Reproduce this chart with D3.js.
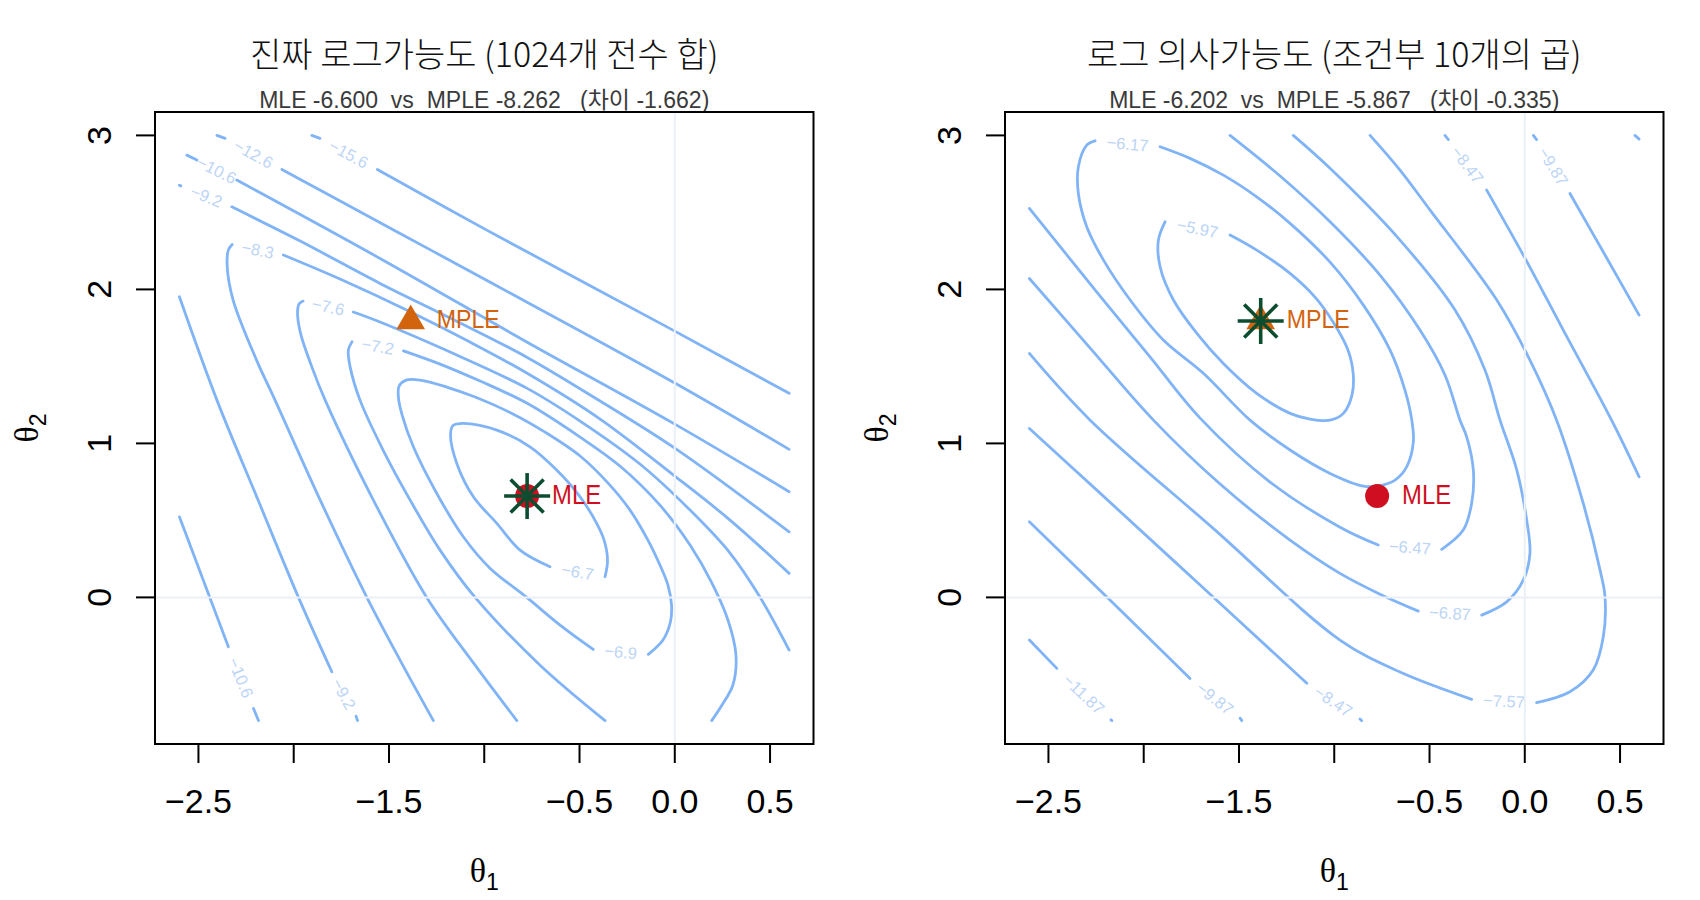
<!DOCTYPE html>
<html><head><meta charset="utf-8">
<script src="https://cdn.jsdelivr.net/npm/d3@7"></script>
<style>
body{margin:0;background:#fff;}
svg{display:block;}
text{white-space:pre;}
</style></head><body>
<svg id="c" width="1700" height="900"></svg>
<script>
// ---------- data ----------
const titles = ["진짜 로그가능도 (1024개 전수 합)", "로그 의사가능도 (조건부 10개의 곱)"];
const subtitles = ["MLE -6.600  vs  MPLE -8.262   (차이 -1.662)", "MLE -6.202  vs  MPLE -5.867   (차이 -0.335)"];
const xTicks = [-2.5, -2.0, -1.5, -1.0, -0.5, 0.0, 0.5];
const xTickLabels = ["-2.5", "", "-1.5", "", "-0.5", "0.0", "0.5"];
const yTicks = [0, 1, 2, 3];
const yTickLabels = ["0", "1", "2", "3"];
const mle = [-0.775, 0.658];
const mple = [-1.386, 1.795];
const leftLevels = [-15.6, -12.6, -10.6, -9.2, -8.3, -7.6, -7.2, -6.9, -6.7];
const rightLevels = [-11.87, -9.87, -8.47, -7.57, -6.87, -6.47, -6.17, -5.97];

// left panel contour pieces (theta1, theta2)
const L15_6a = [[-1.905,3.0],[-1.862,2.981]];
const L15_6b = [[-1.561,2.779],[-0.987,2.385],[0,1.729],[0.6,1.325]];
const L12_6a = [[-2.403,3.0],[-2.360,2.981]];
const L12_6b = [[-2.062,2.779],[-1.459,2.375],[-1.022,2.082],[0,1.392],[0.6,0.961]];
const L10_6a = [[-2.561,2.872],[-2.508,2.840]];
const L10_6b = [[-2.299,2.710],[-1.547,2.201],[-0.777,1.659],[0,1.125],[0.6,0.686]];
const L10_6c = [[-2.6,0.523],[-2.343,-0.321]];
const L10_6d = [[-2.211,-0.721],[-2.185,-0.8]];
const L9_2a = [[-2.6,2.677],[-2.592,2.672]];
const L9_2b = [[-2.325,2.536],[-1.966,2.314],[-1.547,2.039],[-1.179,1.814],[-0.777,1.560],[-0.392,1.275],[0,0.969],[0.6,0.426]];
const L9_2c = [[-2.6,1.952],[-2.403,1.281],[-2.187,0.632],[-1.975,0],[-1.800,-0.483]];
const L9_2d = [[-1.673,-0.771],[-1.665,-0.8]];
const L8_3a = [[-1.267,-0.8],[-1.442,-0.407],[-1.616,0],[-1.861,0.632],[-2.098,1.281],[-2.195,1.541],[-2.318,1.931],[-2.349,2.147],[-2.343,2.255],[-2.323,2.291]];
const L8_3b = [[-2.054,2.223],[-1.757,2.067],[-1.386,1.853],[-1.075,1.658],[-0.777,1.457],[-0.392,1.158],[0,0.788],[0.290,0.502],[0.6,0.156]];
const L7_6a = [[-0.829,-0.8],[-1.048,-0.440],[-1.302,0],[-1.582,0.632],[-1.835,1.281],[-1.905,1.497],[-1.964,1.714],[-1.980,1.853],[-1.972,1.905],[-1.951,1.924]];
const L7_6b = [[-1.687,1.853],[-1.547,1.788],[-1.179,1.593],[-0.777,1.359],[-0.497,1.145],[-0.183,0.866],[0.080,0.567],[0.290,0.288],[0.447,0.002],[0.6,-0.342]];
const L7_2a = [[-0.366,-0.8],[-0.707,-0.440],[-1.048,0],[-1.232,0.307],[-1.389,0.632],[-1.531,0.957],[-1.652,1.281],[-1.704,1.497],[-1.713,1.606],[-1.694,1.661]];
const L7_2b = [[-1.424,1.601],[-1.232,1.515],[-1.022,1.405],[-0.777,1.262],[-0.497,1.041],[-0.288,0.853],[-0.078,0.599],[0.080,0.340],[0.195,0.093],[0.279,-0.147],[0.321,-0.375],[0.305,-0.569],[0.248,-0.699],[0.194,-0.8]];
const L6_9 = [[-0.139,-0.370],[-0.062,-0.277],[-0.023,-0.160],[-0.017,-0.050],[-0.036,0.080],[-0.078,0.210],[-0.141,0.372],[-0.235,0.567],[-0.350,0.742],[-0.497,0.918],[-0.681,1.073],[-0.847,1.190],[-1.048,1.301],[-1.197,1.366],[-1.337,1.411],[-1.410,1.411],[-1.447,1.372],[-1.450,1.294],[-1.431,1.184],[-1.372,0.978],[-1.249,0.675],[-1.110,0.394],[-0.970,0.190],[-0.777,0],[-0.602,-0.180],[-0.428,-0.338]];
const L6_7 = [[-0.366,0.134],[-0.353,0.242],[-0.371,0.372],[-0.410,0.481],[-0.497,0.653],[-0.620,0.827],[-0.760,0.978],[-0.934,1.086],[-1.110,1.130],[-1.164,1.116],[-1.177,1.054],[-1.144,0.870],[-1.057,0.653],[-0.934,0.481],[-0.812,0.307],[-0.655,0.199]];

// right panel contour pieces
const R5_97 = [[-1.547,2.353],[-1.407,2.255],[-1.232,2.104],[-1.101,1.950],[-1.006,1.788],[-0.928,1.606],[-0.900,1.444],[-0.907,1.314],[-0.952,1.195],[-1.022,1.151],[-1.127,1.158],[-1.232,1.195],[-1.407,1.325],[-1.582,1.519],[-1.721,1.714],[-1.844,1.931],[-1.914,2.147],[-1.923,2.320],[-1.888,2.439]];
const R6_17 = [[-1.914,2.926],[-1.757,2.851],[-1.582,2.742],[-1.407,2.601],[-1.232,2.429],[-1.022,2.177],[-0.847,1.898],[-0.707,1.606],[-0.629,1.346],[-0.593,1.151],[-0.585,1.008],[-0.620,0.848],[-0.681,0.762],[-0.760,0.726],[-0.847,0.723],[-1.022,0.805],[-1.232,0.957],[-1.442,1.151],[-1.687,1.455],[-1.897,1.671],[-2.071,1.931],[-2.211,2.190],[-2.299,2.407],[-2.343,2.623],[-2.343,2.796],[-2.299,2.937],[-2.255,2.965]];
const R6_47a = [[-2.6,2.526],[-2.229,1.957],[-1.966,1.560],[-1.704,1.164],[-1.337,0.749],[-0.970,0.456],[-0.769,0.340]];
const R6_47b = [[-0.436,0.312],[-0.323,0.437],[-0.279,0.610],[-0.270,0.827],[-0.305,1.043],[-0.340,1.151],[-0.419,1.444],[-0.550,1.736],[-0.760,2.093],[-1.022,2.439],[-1.284,2.736],[-1.547,3.0]];
const R6_87a = [[-2.6,2.071],[-2.281,1.619],[-1.949,1.151],[-1.599,0.736],[-1.232,0.372],[-0.970,0.156],[-0.760,0.021],[-0.559,-0.089]];
const R6_87b = [[-0.226,-0.115],[-0.095,-0.029],[-0.008,0.112],[0.027,0.286],[0.010,0.502],[-0.042,0.827],[-0.130,1.151],[-0.209,1.476],[-0.366,1.866],[-0.655,2.320],[-1.022,2.786],[-1.215,3.0]];
const R7_57a = [[-2.6,1.584],[-2.281,1.151],[-1.625,0.437],[-0.970,-0.277],[-0.655,-0.485],[-0.279,-0.662]];
const R7_57b = [[0.062,-0.684],[0.237,-0.613],[0.359,-0.472],[0.412,-0.256],[0.421,0.004],[0.395,0.177],[0.307,0.610],[0.167,1.151],[0.027,1.541],[-0.147,1.931],[-0.497,2.515],[-0.655,2.775],[-0.812,3.0]];
const R8_47a = [[-0.419,3.0],[-0.401,2.973]];
const R8_47b = [[-0.200,2.645],[0.001,2.203],[0.202,1.736],[0.395,1.294],[0.482,1.086],[0.6,0.783]];
const R8_47c = [[-2.6,1.097],[-2.229,0.677],[-1.704,0.080],[-1.144,-0.558]];
const R8_47d = [[-0.865,-0.790],[-0.856,-0.8]];
const R9_87a = [[0.045,3.0],[0.062,2.973]];
const R9_87b = [[0.237,2.623],[0.421,2.223],[0.6,1.833]];
const R9_87c = [[-2.6,0.491],[-2.176,-0.018],[-1.757,-0.526]];
const R9_87d = [[-1.494,-0.784],[-1.485,-0.8]];
const R11_87a = [[0.578,3.0],[0.6,2.976]];
const R11_87b = [[-2.6,-0.277],[-2.456,-0.461]];
const R11_87c = [[-2.172,-0.795],[-2.167,-0.8]];

// components: pieces and label gaps [end of piece i -> start of piece j]
const leftContours = [
  {level: leftLevels[0], pieces: [L15_6a, L15_6b], gaps: [[0,1]]},
  {level: leftLevels[1], pieces: [L12_6a, L12_6b], gaps: [[0,1]]},
  {level: leftLevels[2], pieces: [L10_6a, L10_6b, L10_6c, L10_6d], gaps: [[0,1],[2,3]]},
  {level: leftLevels[3], pieces: [L9_2a, L9_2b, L9_2c, L9_2d], gaps: [[0,1],[2,3]]},
  {level: leftLevels[4], pieces: [L8_3a, L8_3b], gaps: [[0,1]]},
  {level: leftLevels[5], pieces: [L7_6a, L7_6b], gaps: [[0,1]]},
  {level: leftLevels[6], pieces: [L7_2a, L7_2b], gaps: [[0,1]]},
  {level: leftLevels[7], pieces: [L6_9], gaps: [[0,0]]},
  {level: leftLevels[8], pieces: [L6_7], gaps: [[0,0]]}
];
const rightContours = [
  {level: rightLevels[0], pieces: [R11_87a, R11_87b, R11_87c], gaps: [[1,2]]},
  {level: rightLevels[1], pieces: [R9_87a, R9_87b, R9_87c, R9_87d], gaps: [[0,1],[2,3]]},
  {level: rightLevels[2], pieces: [R8_47a, R8_47b, R8_47c, R8_47d], gaps: [[0,1],[2,3]]},
  {level: rightLevels[3], pieces: [R7_57a, R7_57b], gaps: [[0,1]]},
  {level: rightLevels[4], pieces: [R6_87a, R6_87b], gaps: [[0,1]]},
  {level: rightLevels[5], pieces: [R6_47a, R6_47b], gaps: [[0,1]]},
  {level: rightLevels[6], pieces: [R6_17], gaps: [[0,0]]},
  {level: rightLevels[7], pieces: [R5_97], gaps: [[0,0]]}
];

// ---------- drawing ----------
const svg = d3.select("#c");
const FONT = "'Liberation Sans', 'Noto Sans CJK KR', sans-serif";
const KFONT = "'Noto Sans CJK KR', 'Liberation Sans', sans-serif";
const LINE = "#80b4f6", LABEL = "#bcd5f6", GRID = "#ebf0f7";
const RED = "#cf0f21", ORANGE = "#d3640e", GREEN = "#0c4d30";
const plotTop = 112, plotBottom = 744, pw = 658.5;
const xDom = [-2.728, 0.728], yDom = [-0.952, 3.152];

const panels = [
  {left: 155, title: titles[0], sub: subtitles[0], contours: leftContours, star: mle},
  {left: 1005, title: titles[1], sub: subtitles[1], contours: rightContours, star: mple}
];

panels.forEach((p, i) => {
  const x = d3.scaleLinear().domain(xDom).range([p.left, p.left + pw]);
  const y = d3.scaleLinear().domain(yDom).range([plotBottom, plotTop]);
  const g = svg.append("g");
  const cx = p.left + pw / 2;

  g.append("text").attr("x", cx).attr("y", 67).attr("text-anchor", "middle")
    .attr("font-family", KFONT).attr("font-size", 34).attr("font-weight", 300).attr("fill", "#111").text(p.title);
  g.append("text").attr("x", cx).attr("y", 108).attr("text-anchor", "middle")
    .attr("font-family", FONT).attr("font-size", 23).attr("fill", "#3a3a3a").text(p.sub);

  const clipId = "clip" + i;
  svg.append("clipPath").attr("id", clipId).append("rect")
    .attr("x", p.left).attr("y", plotTop).attr("width", pw).attr("height", plotBottom - plotTop);
  const plot = g.append("g").attr("clip-path", `url(#${clipId})`);

  const line = d3.line().x(d => x(d[0])).y(d => y(d[1])).curve(d3.curveCatmullRom.alpha(0.5));
  p.contours.forEach(c => {
    c.pieces.forEach(pc => {
      plot.append("path").attr("d", line(pc)).attr("fill", "none")
        .attr("stroke", LINE).attr("stroke-width", 2.8).attr("stroke-linecap", "round").attr("stroke-linejoin", "round");
    });
    c.gaps.forEach(([a, b]) => {
      const pa = c.pieces[a][c.pieces[a].length - 1], pb = c.pieces[b][0];
      const x1 = x(pa[0]), y1 = y(pa[1]), x2 = x(pb[0]), y2 = y(pb[1]);
      let ang = Math.atan2(y2 - y1, x2 - x1) * 180 / Math.PI;
      if (ang > 90) ang -= 180; if (ang < -90) ang += 180;
      const mx = (x1 + x2) / 2, my = (y1 + y2) / 2;
      plot.append("text").attr("x", mx).attr("y", my).attr("dy", "0.36em")
        .attr("text-anchor", "middle").attr("font-family", FONT).attr("font-size", 16.5)
        .attr("fill", LABEL).attr("transform", `rotate(${ang},${mx},${my})`)
        .text("\u2212" + Math.abs(c.level));
    });
  });

  // reference lines at 0
  plot.append("line").attr("x1", x(0)).attr("x2", x(0)).attr("y1", plotTop).attr("y2", plotBottom)
    .attr("stroke", GRID).attr("stroke-width", 2);
  plot.append("line").attr("x1", p.left).attr("x2", p.left + pw).attr("y1", y(0)).attr("y2", y(0))
    .attr("stroke", GRID).attr("stroke-width", 2);

  // box
  g.append("rect").attr("x", p.left).attr("y", plotTop).attr("width", pw).attr("height", plotBottom - plotTop)
    .attr("fill", "none").attr("stroke", "#000").attr("stroke-width", 2);

  // x axis
  xTicks.forEach((t, k) => {
    g.append("line").attr("x1", x(t)).attr("x2", x(t)).attr("y1", plotBottom).attr("y2", plotBottom + 19)
      .attr("stroke", "#000").attr("stroke-width", 2);
    if (xTickLabels[k]) g.append("text").attr("x", x(t)).attr("y", 813).attr("text-anchor", "middle")
      .attr("font-family", FONT).attr("font-size", 34).attr("fill", "#000").text(xTickLabels[k].replace("-", "\u2212"));
  });
  // y axis
  yTicks.forEach((t, k) => {
    g.append("line").attr("x1", p.left - 19).attr("x2", p.left).attr("y1", y(t)).attr("y2", y(t))
      .attr("stroke", "#000").attr("stroke-width", 2);
    const tx = p.left - 44, ty = y(t);
    g.append("text").attr("x", tx).attr("y", ty).attr("text-anchor", "middle")
      .attr("font-family", FONT).attr("font-size", 34).attr("fill", "#000")
      .attr("transform", `rotate(-90,${tx},${ty})`).text(yTickLabels[k]);
  });
  // axis titles
  const xl = g.append("text").attr("x", cx).attr("y", 882).attr("text-anchor", "middle").attr("fill", "#000");
  xl.append("tspan").attr("font-family", "'Liberation Serif', 'DejaVu Serif', serif").attr("font-size", 34).text("θ");
  xl.append("tspan").attr("font-family", FONT).attr("font-size", 23).attr("dy", 8).text("1");
  const yx = p.left - 117, yy = (plotTop + plotBottom) / 2;
  const yl = g.append("text").attr("x", yx).attr("y", yy).attr("text-anchor", "middle").attr("fill", "#000")
    .attr("transform", `rotate(-90,${yx},${yy})`);
  yl.append("tspan").attr("font-family", "'Liberation Serif', 'DejaVu Serif', serif").attr("font-size", 34).text("θ");
  yl.append("tspan").attr("font-family", FONT).attr("font-size", 23).attr("dy", 8).text("2");

  // markers
  const mx = x(mle[0]), my = y(mle[1]);
  g.append("circle").attr("cx", mx).attr("cy", my).attr("r", 12).attr("fill", RED);
  g.append("text").attr("x", mx + 25).attr("y", my + 7.5).attr("font-family", FONT).attr("font-size", 27)
    .attr("fill", RED).attr("textLength", 49).attr("lengthAdjust", "spacingAndGlyphs").text("MLE");
  const tx = x(mple[0]), ty = y(mple[1]), r = 16.5;
  g.append("path").attr("d", `M${tx},${ty - r}L${tx + r * Math.sqrt(3) / 2},${ty + r / 2}L${tx - r * Math.sqrt(3) / 2},${ty + r / 2}Z`)
    .attr("fill", ORANGE);
  g.append("text").attr("x", tx + 26).attr("y", ty + 7.5).attr("font-family", FONT).attr("font-size", 26.5)
    .attr("fill", ORANGE).attr("textLength", 63).attr("lengthAdjust", "spacingAndGlyphs").text("MPLE");

  const sx = x(p.star[0]), sy = y(p.star[1]), a = 23, b = 16.5;
  const star = g.append("g").attr("stroke", GREEN).attr("stroke-width", 3.6);
  [[-a,0,a,0],[0,-a,0,a],[-b,-b,b,b],[-b,b,b,-b]].forEach(s => {
    star.append("line").attr("x1", sx + s[0]).attr("y1", sy + s[1]).attr("x2", sx + s[2]).attr("y2", sy + s[3]);
  });
});
</script>
</body></html>
